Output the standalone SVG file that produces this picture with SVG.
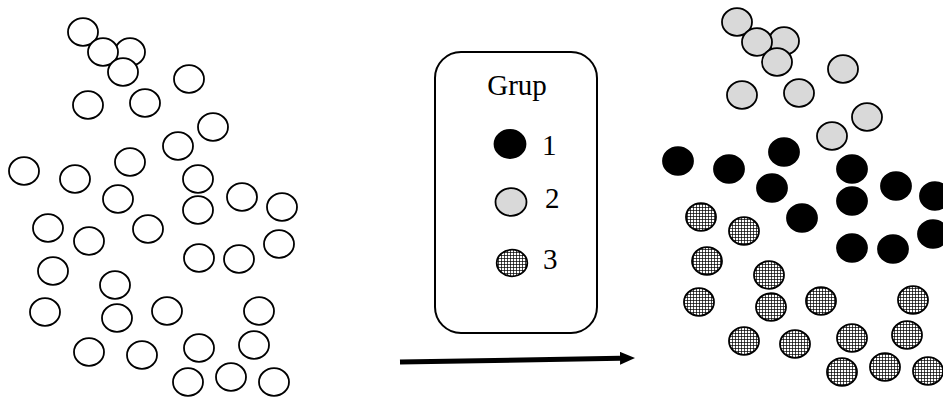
<svg xmlns="http://www.w3.org/2000/svg" width="943" height="398" viewBox="0 0 943 398">
<defs>
<pattern id="grid" patternUnits="userSpaceOnUse" width="3" height="3">
<rect width="3" height="3" fill="#fff"/>
<path d="M0 0.4H3M0.4 0V3" stroke="#000" stroke-width="0.8" fill="none"/>
</pattern>
<marker id="ah" viewBox="0 0 15 13" refX="0" refY="6.5" markerWidth="15" markerHeight="13" markerUnits="userSpaceOnUse" orient="auto">
<path d="M0 0L15 6.5L0 13Z" fill="#000"/>
</marker>
</defs>
<style>
ellipse{stroke:#000;stroke-width:1.8}
.o{fill:#fff}
.g{fill:#d9d9d9}
.b{fill:#000}
.h{fill:url(#grid)}
text{font-family:"Liberation Serif","Times New Roman",serif;fill:#000;font-size:29px}
</style>
<rect width="943" height="398" fill="#fff"/>
<g id="before" class="o">
<ellipse class="o" cx="83" cy="32" rx="15" ry="13.8"/>
<ellipse class="o" cx="130" cy="52" rx="15" ry="13.8"/>
<ellipse class="o" cx="103" cy="52" rx="15" ry="13.8"/>
<ellipse class="o" cx="123" cy="72" rx="15" ry="13.8"/>
<ellipse class="o" cx="189" cy="79" rx="15" ry="13.8"/>
<ellipse class="o" cx="88" cy="105" rx="15" ry="13.8"/>
<ellipse class="o" cx="145" cy="103" rx="15" ry="13.8"/>
<ellipse class="o" cx="213" cy="127" rx="15" ry="13.8"/>
<ellipse class="o" cx="178" cy="146" rx="15" ry="13.8"/>
<ellipse class="o" cx="24" cy="171" rx="15" ry="13.8"/>
<ellipse class="o" cx="75" cy="179" rx="15" ry="13.8"/>
<ellipse class="o" cx="130" cy="162" rx="15" ry="13.8"/>
<ellipse class="o" cx="198" cy="179" rx="15" ry="13.8"/>
<ellipse class="o" cx="118" cy="199" rx="15" ry="13.8"/>
<ellipse class="o" cx="198" cy="210" rx="15" ry="13.8"/>
<ellipse class="o" cx="242" cy="197" rx="15" ry="13.8"/>
<ellipse class="o" cx="282" cy="207" rx="15" ry="13.8"/>
<ellipse class="o" cx="48" cy="228" rx="15" ry="13.8"/>
<ellipse class="o" cx="89" cy="241" rx="15" ry="13.8"/>
<ellipse class="o" cx="148" cy="229" rx="15" ry="13.8"/>
<ellipse class="o" cx="199" cy="258" rx="15" ry="13.8"/>
<ellipse class="o" cx="239" cy="259" rx="15" ry="13.8"/>
<ellipse class="o" cx="279" cy="244" rx="15" ry="13.8"/>
<ellipse class="o" cx="53" cy="271" rx="15" ry="13.8"/>
<ellipse class="o" cx="115" cy="285" rx="15" ry="13.8"/>
<ellipse class="o" cx="45" cy="312" rx="15" ry="13.8"/>
<ellipse class="o" cx="117" cy="318" rx="15" ry="13.8"/>
<ellipse class="o" cx="167" cy="311" rx="15" ry="13.8"/>
<ellipse class="o" cx="259" cy="311" rx="15" ry="13.8"/>
<ellipse class="o" cx="89" cy="352" rx="15" ry="13.8"/>
<ellipse class="o" cx="142" cy="355" rx="15" ry="13.8"/>
<ellipse class="o" cx="199" cy="348" rx="15" ry="13.8"/>
<ellipse class="o" cx="254" cy="345" rx="15" ry="13.8"/>
<ellipse class="o" cx="188" cy="382" rx="15" ry="13.8"/>
<ellipse class="o" cx="231" cy="377" rx="15" ry="13.8"/>
<ellipse class="o" cx="274" cy="382" rx="15" ry="13.8"/>
</g>
<g id="legend">
<rect x="435" y="52" width="162" height="281" rx="26" ry="26" fill="#fff" stroke="#000" stroke-width="2"/>
<text x="517" y="95" text-anchor="middle">Grup</text>
<ellipse class="b" cx="510" cy="144" rx="15.5" ry="14"/>
<text x="542" y="155">1</text>
<ellipse class="g" cx="511" cy="202" rx="15.5" ry="13.8"/>
<text x="545" y="208">2</text>
<ellipse class="h" cx="512" cy="263" rx="15.3" ry="13.3"/>
<text x="543" y="269">3</text>
</g>
<g id="connectors">
<line x1="400" y1="362" x2="620" y2="358.3" stroke="#000" stroke-width="5" marker-end="url(#ah)"/>
</g>
<g id="after">
<g id="group2">
<ellipse class="g" cx="737" cy="22" rx="15" ry="13.8"/>
<ellipse class="g" cx="784" cy="41" rx="15" ry="13.8"/>
<ellipse class="g" cx="757" cy="42" rx="15" ry="13.8"/>
<ellipse class="g" cx="777" cy="62" rx="15" ry="13.8"/>
<ellipse class="g" cx="843" cy="69" rx="15" ry="13.8"/>
<ellipse class="g" cx="742" cy="95" rx="15" ry="13.8"/>
<ellipse class="g" cx="799" cy="93" rx="15" ry="13.8"/>
<ellipse class="g" cx="867" cy="117" rx="15" ry="13.8"/>
<ellipse class="g" cx="832" cy="136" rx="15" ry="13.8"/>
</g>
<g id="group1">
<ellipse class="b" cx="678" cy="161" rx="15" ry="13.8"/>
<ellipse class="b" cx="729" cy="169" rx="15" ry="13.8"/>
<ellipse class="b" cx="784" cy="152" rx="15" ry="13.8"/>
<ellipse class="b" cx="772" cy="188" rx="15" ry="13.8"/>
<ellipse class="b" cx="852" cy="169" rx="15" ry="13.8"/>
<ellipse class="b" cx="896" cy="186" rx="15" ry="13.8"/>
<ellipse class="b" cx="935" cy="196" rx="15" ry="13.8"/>
<ellipse class="b" cx="852" cy="201" rx="15" ry="13.8"/>
<ellipse class="b" cx="802" cy="218" rx="15" ry="13.8"/>
<ellipse class="b" cx="852" cy="248" rx="15" ry="13.8"/>
<ellipse class="b" cx="893" cy="249" rx="15" ry="13.8"/>
<ellipse class="b" cx="933" cy="234" rx="15" ry="13.8"/>
</g>
<g id="group3">
<ellipse class="h" cx="701" cy="217" rx="15" ry="13.8"/>
<ellipse class="h" cx="744" cy="231" rx="15" ry="13.8"/>
<ellipse class="h" cx="707" cy="261" rx="15" ry="13.8"/>
<ellipse class="h" cx="769" cy="275" rx="15" ry="13.8"/>
<ellipse class="h" cx="699" cy="302" rx="15" ry="13.8"/>
<ellipse class="h" cx="771" cy="307" rx="15" ry="13.8"/>
<ellipse class="h" cx="821" cy="301" rx="15" ry="13.8"/>
<ellipse class="h" cx="913" cy="300" rx="15" ry="13.8"/>
<ellipse class="h" cx="744" cy="341" rx="15" ry="13.8"/>
<ellipse class="h" cx="795" cy="344" rx="15" ry="13.8"/>
<ellipse class="h" cx="852" cy="338" rx="15" ry="13.8"/>
<ellipse class="h" cx="907" cy="335" rx="15" ry="13.8"/>
<ellipse class="h" cx="842" cy="372" rx="15" ry="13.8"/>
<ellipse class="h" cx="885" cy="367" rx="15" ry="13.8"/>
<ellipse class="h" cx="928" cy="371" rx="15" ry="13.8"/>
</g>
</g>
</svg>
